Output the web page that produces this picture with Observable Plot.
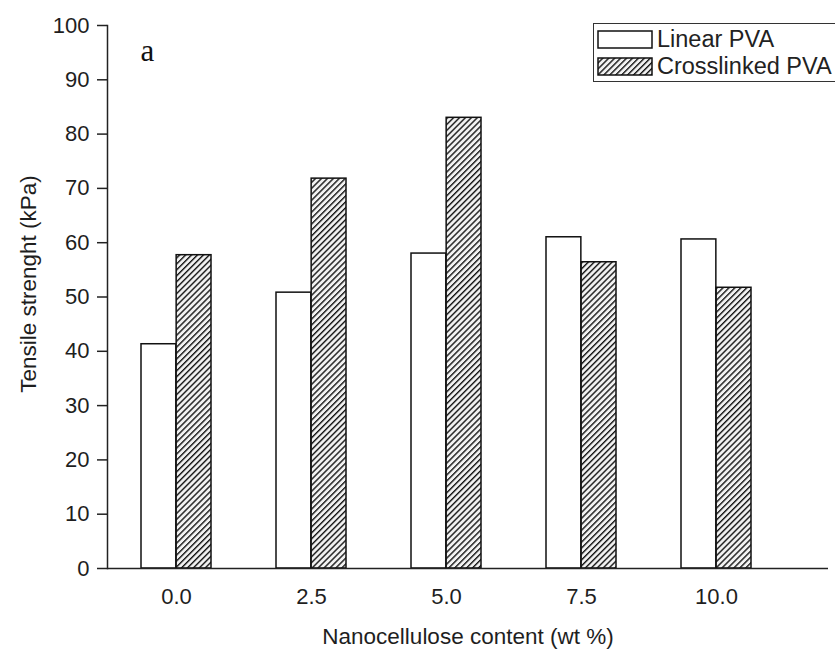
<!DOCTYPE html>
<html><head><meta charset="utf-8">
<script src="https://cdn.jsdelivr.net/npm/d3@7"></script>
<script src="https://cdn.jsdelivr.net/npm/@observablehq/plot@0.6"></script>
<style>
body{margin:0;background:#fff;}
#wrap{position:relative;width:835px;height:654px;overflow:hidden;font-family:"Liberation Sans",Arial,sans-serif;color:#222;}
#legend{position:absolute;left:593px;top:23px;width:270px;height:59px;border:1.5px solid #333;background:#fff;box-sizing:border-box;}
.row{position:absolute;left:3px;height:20px;display:flex;align-items:center;font-size:23.5px;white-space:nowrap;}
.row svg{margin-right:4px;}
</style>
</head><body>
<div id="wrap">
  <div id="chart"></div>
  <div id="legend">
    <div class="row" style="top:5px"><svg width="56" height="19"><rect x="1" y="1" width="54" height="17" fill="#fff" stroke="#111" stroke-width="1.5"/></svg><span>Linear PVA</span></div>
    <div class="row" style="top:32px"><svg width="56" height="19"><rect x="1" y="1" width="54" height="17" fill="url(#hatch)" stroke="#111" stroke-width="1.5"/></svg><span>Crosslinked PVA</span></div>
  </div>
</div>
<script>
const contents = ["0.0", "2.5", "5.0", "7.5", "10.0"];
const linearPVA = [41.3, 50.8, 58.0, 61.0, 60.6];
const crosslinkedPVA = [57.7, 71.8, 83.0, 56.4, 51.7];
const yTicks = [0, 10, 20, 30, 40, 50, 60, 70, 80, 90, 100];
const xTitle = "Nanocellulose content (wt %)";
const yTitle = "Tensile strenght (kPa)";
const panelLabel = "a";

const rows = contents.map((c, i) => ({content: c, linear: linearPVA[i], crosslinked: crosslinkedPVA[i]}));
const half = 35.15;

const chart = Plot.plot({
  width: 835, height: 654,
  marginLeft: 107, marginRight: 7, marginTop: 25, marginBottom: 86,
  style: {fontFamily: "Liberation Sans, Arial, sans-serif", fontSize: "22px", color: "#1e1e1e", background: "transparent"},
  x: {domain: contents, range: [108.4, 784.6], paddingInner: 0.48, paddingOuter: 0.24, axis: null},
  y: {domain: [0, 100], axis: null},
  marks: [
    Plot.barY(rows, {x: "content", y: "linear", insetRight: half, fill: "white", stroke: "#111", strokeWidth: 1.5}),
    Plot.barY(rows, {x: "content", y: "crosslinked", insetLeft: half, fill: "url(#hatch)", stroke: "#111", strokeWidth: 1.5}),
    Plot.axisY({ticks: yTicks, tickSize: 10, tickPadding: 8, label: null, stroke: "#222", strokeWidth: 1.5}),
    Plot.axisX({tickSize: 0, tickPadding: 20, label: null}),
    Plot.ruleY([0], {stroke: "#222", strokeWidth: 1.5}),
    Plot.frame({anchor: "left", stroke: "#222", strokeWidth: 1.5}),
    Plot.text([xTitle], {frameAnchor: "bottom", dy: 75, fontSize: 22.5, fill: "#1e1e1e"}),
    Plot.text([yTitle], {frameAnchor: "left", textAnchor: "middle", dx: -79, dy: -13, rotate: -90, fontSize: 22.5, fill: "#1e1e1e"}),
    Plot.text([panelLabel], {frameAnchor: "top-left", dx: 33, dy: 13, fontSize: 31, fontFamily: "Liberation Serif, Times New Roman, serif", fill: "#111"})
  ]
});

const ns = "http://www.w3.org/2000/svg";
const defs = document.createElementNS(ns, "defs");
defs.innerHTML = '<pattern id="hatch" patternUnits="userSpaceOnUse" width="4.2" height="4.2" patternTransform="rotate(45)"><rect width="4.2" height="4.2" fill="#f2f2f2"/><line x1="0" y1="0" x2="0" y2="4.2" stroke="#161616" stroke-width="2.8"/></pattern>';
chart.insertBefore(defs, chart.firstChild);
document.getElementById("chart").appendChild(chart);
</script>
</body></html>
